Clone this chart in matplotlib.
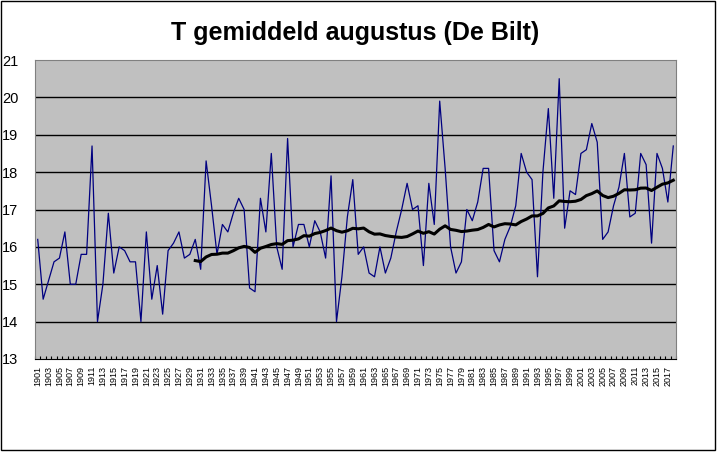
import numpy as np
import pandas as pd
import matplotlib
matplotlib.use("Agg")
import matplotlib.pyplot as plt
from matplotlib.patches import Rectangle

plt.rcParams["font.family"] = ["Liberation Sans", "DejaVu Sans"]

# August mean temperature De Bilt, 1901-2018
years = list(range(1901, 2019))
temps = [
    16.2, 14.6, 15.1, 15.6, 15.7, 16.4, 15.0, 15.0, 15.8, 15.8,  # 1901-1910
    18.7, 14.0, 15.0, 16.9, 15.3, 16.0, 15.9, 15.6, 15.6, 14.0,  # 1911-1920
    16.4, 14.6, 15.5, 14.2, 15.9, 16.1, 16.4, 15.7, 15.8, 16.2,  # 1921-1930
    15.4, 18.3, 17.1, 15.8, 16.6, 16.4, 16.9, 17.3, 17.0, 14.9,  # 1931-1940
    14.8, 17.3, 16.4, 18.5, 16.0, 15.4, 18.9, 16.0, 16.6, 16.6,  # 1941-1950
    16.0, 16.7, 16.4, 15.7, 17.9, 14.0, 15.2, 16.8, 17.8, 15.8,  # 1951-1960
    16.0, 15.3, 15.2, 16.0, 15.3, 15.7, 16.4, 17.0, 17.7, 17.0,  # 1961-1970
    17.1, 15.5, 17.7, 16.6, 19.9, 18.1, 16.0, 15.3, 15.6, 17.0,  # 1971-1980
    16.7, 17.2, 18.1, 18.1, 15.9, 15.6, 16.2, 16.55, 17.1, 18.5,  # 1981-1990
    18.0, 17.8, 15.2, 18.0, 19.7, 17.3, 20.5, 16.5, 17.5, 17.4,  # 1991-2000
    18.5, 18.6, 19.3, 18.8, 16.2, 16.4, 17.1, 17.6, 18.5, 16.8,  # 2001-2010
    16.9, 18.5, 18.2, 16.1, 18.5, 18.1, 17.2, 18.7,              # 2011-2018
]
ma_window = 30
y_ticks = list(range(13, 22))

df = pd.DataFrame({"year": years, "temp": temps})
# Excel-style moving average trendline
df["ma"] = df["temp"].rolling(ma_window).mean()
x = np.arange(len(df))

fig = plt.figure(figsize=(7.18, 4.53), dpi=100)
ax = fig.add_axes([35 / 718, 1 - 359 / 453, 641 / 718, 299 / 453])
ax.set_facecolor("#C0C0C0")

ax.plot(x, df["temp"], color="#000080", linewidth=0.9, zorder=3)
ax.plot(x, df["ma"], color="black", linewidth=2.2, zorder=4)

ax.set_xlim(-0.5, len(df) - 0.5)
ax.set_ylim(13, 21)
ax.set_yticks(y_ticks)
ax.set_yticklabels([str(v) for v in y_ticks], fontsize=10.5)
ax.tick_params(axis="y", length=0, pad=12)
for v in y_ticks[1:-1]:
    ax.axhline(v, color="black", linewidth=1, zorder=2)

ax.set_xticks(x[::2])
ax.set_xticklabels([str(y) for y in df["year"][::2]], rotation=90, fontsize=6.5)
ax.set_xticks(np.arange(len(df) + 1) - 0.5, minor=True)
ax.tick_params(axis="x", which="major", length=0, pad=5)
ax.tick_params(axis="x", which="minor", direction="in", length=2.5, width=0.8)

for side in ["top", "right", "left"]:
    ax.spines[side].set_color("#808080")
ax.spines["bottom"].set_color("black")

fig.text(0.494, 0.927, "T gemiddeld augustus (De Bilt)", ha="center", va="center",
         fontsize=18, fontweight="bold")

fig.patches.append(Rectangle((1 / 718, 3 / 453), 714 / 718, 449 / 453,
                             transform=fig.transFigure, fill=False,
                             edgecolor="black", linewidth=1))

fig.savefig("out.png", dpi=100)
